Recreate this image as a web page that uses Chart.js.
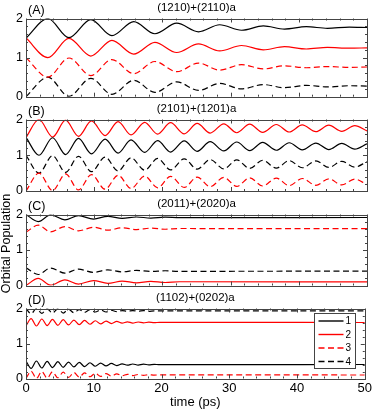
<!DOCTYPE html>
<html><head><meta charset="utf-8">
<script src="https://cdn.jsdelivr.net/npm/chart.js@4/dist/chart.umd.min.js"></script>
<style>
html,body{margin:0;padding:0;background:#fff;}
#wrap{position:relative;width:374px;height:410px;background:#fff;}
#wrap canvas{position:absolute;left:0;top:0;}
</style></head><body>
<div id="wrap">
<canvas id="cA" width="374" height="410"></canvas>
<canvas id="cB" width="374" height="410"></canvas>
<canvas id="cC" width="374" height="410"></canvas>
<canvas id="cD" width="374" height="410"></canvas>
</div>
<script>
// ---------- labels ----------
const seriesNames = ['1', '2', '3', '4'];
const panelLetters = ['(A)', '(B)', '(C)', '(D)'];
const panelTitles = ['(1210)+(2110)a', '(2101)+(1201)a', '(2011)+(2020)a', '(1102)+(0202)a'];
const xTickStep = 10, xMinorStep = 2;
const yTickStep = 1, yMinorStep = 0.2;
const xLabel = 'time (ps)';
const yLabel = 'Orbital Population';

// ---------- panel A: (1210)+(2110)a ----------
const tA = [0, 3.2, 6.3, 9.5, 12.6, 15.8, 18.9, 22.1, 25.3, 28.4, 31.6, 34.8, 37.9, 41.1, 44.2, 47.4, 50];
const a1 = [1.5, 2.0, 1.51, 1.97, 1.56, 1.92, 1.61, 1.88, 1.66, 1.84, 1.70, 1.81, 1.73, 1.79, 1.75, 1.78, 1.77];
const a2 = [1.5, 1.0, 1.49, 1.04, 1.44, 1.09, 1.39, 1.13, 1.35, 1.17, 1.31, 1.20, 1.28, 1.22, 1.26, 1.24, 1.25];
const a3 = [1.0, 0.5, 0.99, 0.54, 0.95, 0.59, 0.90, 0.64, 0.86, 0.68, 0.82, 0.71, 0.79, 0.74, 0.77, 0.75, 0.76];
const a4 = [0.0, 0.5, 0.01, 0.47, 0.06, 0.42, 0.11, 0.38, 0.16, 0.34, 0.20, 0.31, 0.23, 0.29, 0.25, 0.28, 0.27];

// ---------- panel B: (2101)+(1201)a ----------
const tB = [0, 1.9, 3.9, 5.8, 7.7, 9.6, 11.6, 13.5, 15.4, 17.4, 19.3, 21.2, 23.2, 25.1, 27.0, 29.0, 30.9, 32.8, 34.7, 36.7, 38.6, 40.5, 42.5, 44.4, 46.3, 48.2, 50];
const b1 = [1.5, 1.0, 1.49, 1.02, 1.47, 1.04, 1.45, 1.06, 1.43, 1.08, 1.41, 1.09, 1.40, 1.11, 1.38, 1.12, 1.37, 1.13, 1.36, 1.14, 1.35, 1.15, 1.34, 1.16, 1.33, 1.17, 1.32];
const b2 = [1.5, 2.0, 1.51, 1.98, 1.53, 1.96, 1.55, 1.94, 1.57, 1.92, 1.59, 1.91, 1.60, 1.89, 1.62, 1.88, 1.63, 1.87, 1.64, 1.86, 1.65, 1.85, 1.66, 1.84, 1.67, 1.83, 1.68];
const b3 = [0.0, 0.5, 0.01, 0.48, 0.03, 0.46, 0.05, 0.44, 0.07, 0.42, 0.09, 0.41, 0.10, 0.39, 0.12, 0.38, 0.13, 0.37, 0.14, 0.36, 0.15, 0.35, 0.16, 0.34, 0.17, 0.33, 0.18];
const b4 = [1.0, 0.5, 0.99, 0.52, 0.97, 0.54, 0.95, 0.56, 0.93, 0.58, 0.91, 0.59, 0.90, 0.61, 0.88, 0.62, 0.87, 0.63, 0.86, 0.64, 0.85, 0.65, 0.84, 0.66, 0.83, 0.67, 0.82];

// ---------- panel C: (2011)+(2020)a ----------
const tC = [0, 1.8, 3.6, 5.7, 7.7, 9.9, 12.0, 14.1, 16.2, 18.3, 20.4, 22.5, 50];
const c1 = [2.0, 1.80, 1.99, 1.85, 1.97, 1.87, 1.95, 1.89, 1.93, 1.90, 1.925, 1.91, 1.915];
const c2 = [0.0, 0.20, 0.01, 0.16, 0.04, 0.14, 0.06, 0.125, 0.075, 0.115, 0.085, 0.105, 0.10];
const c3 = [1.5, 1.70, 1.51, 1.66, 1.54, 1.64, 1.56, 1.625, 1.575, 1.615, 1.585, 1.605, 1.60];
const c4 = [0.5, 0.31, 0.49, 0.35, 0.46, 0.37, 0.44, 0.385, 0.425, 0.395, 0.415, 0.40, 0.405];

// ---------- panel D: (1102)+(0202)a ----------
const tD = [0, 0.75, 1.54, 2.33, 3.12, 3.91, 4.70, 5.49, 6.28, 7.07, 7.86, 8.65, 9.44, 10.23, 11.02, 11.81, 12.60, 13.39, 14.18, 14.97, 15.76, 16.55, 17.34, 18.13, 18.92, 19.71, 50];
const d1 = [0.5, 0.29, 0.5, 0.30, 0.49, 0.31, 0.48, 0.32, 0.47, 0.33, 0.46, 0.34, 0.45, 0.35, 0.44, 0.36, 0.43, 0.37, 0.42, 0.38, 0.415, 0.385, 0.41, 0.39, 0.405, 0.395, 0.40];
const d2 = [1.5, 1.71, 1.5, 1.70, 1.51, 1.69, 1.52, 1.68, 1.53, 1.67, 1.54, 1.66, 1.55, 1.65, 1.56, 1.64, 1.57, 1.63, 1.58, 1.62, 1.585, 1.615, 1.59, 1.61, 1.595, 1.605, 1.60];
const d3 = [0.0, 0.21, 0.0, 0.20, 0.01, 0.19, 0.02, 0.18, 0.03, 0.17, 0.04, 0.16, 0.05, 0.15, 0.06, 0.14, 0.07, 0.13, 0.08, 0.12, 0.085, 0.115, 0.09, 0.11, 0.095, 0.105, 0.10];
const d4 = [2.0, 1.85, 2.0, 1.86, 1.99, 1.87, 1.99, 1.87, 1.98, 1.88, 1.97, 1.89, 1.97, 1.90, 1.96, 1.90, 1.95, 1.91, 1.94, 1.92, 1.94, 1.92, 1.94, 1.92, 1.935, 1.93, 1.93];

// ---------- styles / layout ----------
const seriesColors = ['#000000', '#ff0000', '#ff0000', '#000000'];
const seriesDash = [[], [], [6, 3.5], [6, 3.5]];
const W = 374, H = 410;
const plotLeft = 26, plotRight = 367;
const xAxisH = 31.5;
const FONT = '"Liberation Sans", Arial, Helvetica, sans-serif';
const frameColor = '#444';

const panels = [
  {id: 'cA', t: tA, series: [a1, a2, a3, a4], top: 18.5, bottom: 96.7},
  {id: 'cB', t: tB, series: [b1, b2, b3, b4], top: 119.5, bottom: 191},
  {id: 'cC', t: tC, series: [c1, c2, c3, c4], top: 214.5, bottom: 285.5},
  {id: 'cD', t: tD, series: [d1, d2, d3, d4], top: 308.5, bottom: 378.5}
];

Chart.defaults.font.family = FONT;
Chart.defaults.color = '#000';

const framePlugin = {
  id: 'frame',
  afterDatasetsDraw(chart) {
    const {ctx, chartArea: a, scales: {x, y}} = chart;
    ctx.save();
    ctx.strokeStyle = frameColor;
    ctx.lineWidth = 1;
    ctx.beginPath();
    const nx = Math.round((x.max - x.min) / xMinorStep);
    for (let i = 0; i <= nx; i++) {
      const v = x.min + i * xMinorStep;
      const px = Math.round(x.getPixelForValue(v)) + 0.5;
      const L = (Math.abs(v % xTickStep) < 1e-9) ? 4 : 2;
      ctx.moveTo(px, a.top); ctx.lineTo(px, a.top + L);
      ctx.moveTo(px, a.bottom); ctx.lineTo(px, a.bottom - L);
    }
    const ny = Math.round((y.max - y.min) / yMinorStep);
    for (let i = 0; i <= ny; i++) {
      const v = y.min + i * yMinorStep;
      const py = Math.round(y.getPixelForValue(v)) + 0.5;
      const L = (i % Math.round(yTickStep / yMinorStep) === 0) ? 4 : 2;
      ctx.moveTo(a.left, py); ctx.lineTo(a.left + L, py);
      ctx.moveTo(a.right, py); ctx.lineTo(a.right - L, py);
    }
    ctx.stroke();
    ctx.strokeRect(Math.round(a.left) + 0.5, Math.round(a.top) + 0.5,
                   Math.round(a.right) - Math.round(a.left), Math.round(a.bottom) - Math.round(a.top));
    ctx.restore();
  }
};

const labelPlugin = {
  id: 'panelLabels',
  afterDraw(chart, args, opts) {
    const {ctx, chartArea: a} = chart;
    ctx.save();
    ctx.fillStyle = '#000';
    ctx.textBaseline = 'alphabetic';
    ctx.font = '12.5px ' + FONT;
    ctx.textAlign = 'left';
    ctx.fillText(opts.letter, a.left + 2, a.top - 5);
    ctx.font = '11.5px ' + FONT;
    ctx.textAlign = 'center';
    ctx.fillText(opts.title, (a.left + a.right) / 2, a.top - 8);
    if (opts.yLabel) {
      ctx.translate(7, 243.5);
      ctx.rotate(-Math.PI / 2);
      ctx.font = '12.5px ' + FONT;
      ctx.textAlign = 'center';
      ctx.textBaseline = 'middle';
      ctx.fillText(yLabel, 0, 0);
    }
    ctx.restore();
  }
};

const legendPlugin = {
  id: 'boxLegend',
  afterDatasetsDraw(chart, args, opts) {
    if (!opts.show) return;
    const {ctx, chartArea: a} = chart;
    const bw = 41, bh = 55;
    const bx = Math.round(a.right - 10 - bw) + 0.5;
    const by = Math.round(a.bottom - 10.5 - bh) + 0.5;
    ctx.save();
    ctx.fillStyle = '#fff';
    ctx.fillRect(bx, by, bw, bh);
    ctx.strokeStyle = frameColor;
    ctx.lineWidth = 1;
    ctx.strokeRect(bx, by, bw, bh);
    ctx.font = '10px ' + FONT;
    ctx.textAlign = 'left';
    ctx.textBaseline = 'middle';
    chart.data.datasets.forEach((ds, k) => {
      const ly = by + 7.5 + k * 13.5;
      ctx.beginPath();
      ctx.strokeStyle = ds.borderColor;
      ctx.lineWidth = 1.4;
      ctx.setLineDash(ds.borderDash || []);
      ctx.moveTo(bx + 4, ly); ctx.lineTo(bx + 29, ly);
      ctx.stroke();
      ctx.setLineDash([]);
      ctx.fillStyle = '#000';
      ctx.fillText(ds.label, bx + 31, ly + 0.5);
    });
    ctx.restore();
  }
};

panels.forEach((p, i) => {
  const isLast = i === panels.length - 1;
  const datasets = p.series.map((vals, k) => ({
    label: seriesNames[k],
    data: p.t.map((x, j) => ({x: x, y: vals[j]})),
    borderColor: seriesColors[k],
    borderWidth: 1.2,
    borderDash: seriesDash[k],
    pointRadius: 0,
    fill: false,
    cubicInterpolationMode: 'monotone'
  }));
  new Chart(document.getElementById(p.id), {
    type: 'line',
    data: {datasets},
    options: {
      responsive: false,
      animation: false,
      devicePixelRatio: 1,
      layout: {padding: {left: 0, right: W - plotRight, top: p.top,
                         bottom: isLast ? H - p.bottom - xAxisH : H - p.bottom}},
      plugins: {
        legend: {display: false},
        tooltip: {enabled: false},
        panelLabels: {letter: panelLetters[i], title: panelTitles[i], yLabel: i === 2},
        boxLegend: {show: isLast}
      },
      scales: {
        x: {
          type: 'linear', min: 0, max: 50,
          display: isLast,
          ticks: {stepSize: xTickStep, padding: 2, font: {size: 13}, color: '#000', maxRotation: 0, autoSkip: false},
          grid: {display: false, drawTicks: false},
          border: {display: false},
          title: {display: isLast, text: xLabel, font: {size: 13}, color: '#000', padding: 0},
          afterFit(s) { s.height = isLast ? xAxisH : 0; }
        },
        y: {
          type: 'linear', min: 0, max: 2,
          ticks: {stepSize: yTickStep, padding: 3, font: {size: 12.5}, color: '#000'},
          grid: {display: false, drawTicks: false},
          border: {display: false},
          afterFit(s) { s.width = plotLeft; }
        }
      }
    },
    plugins: [framePlugin, labelPlugin, legendPlugin]
  });
});
</script>
</body></html>
